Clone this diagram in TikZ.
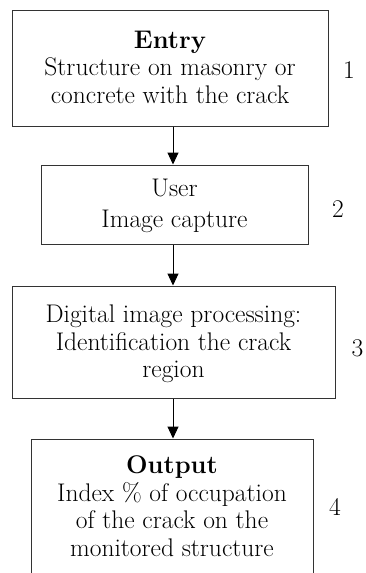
\documentclass[tikz,border=0pt]{standalone}
\usetikzlibrary{arrows.meta}
\begin{document}
\begin{tikzpicture}[x=1pt,y=1pt,
  boxstyle/.style={draw=black!80,line width=1pt,rectangle,inner sep=0pt},
  txt/.style={align=center,inner sep=0pt,font=\fontsize{25.5}{27.5}\selectfont},
  num/.style={inner sep=0pt,font=\fontsize{25.5}{27.5}\selectfont},
  arr/.style={line width=1pt,-{Triangle[length=12pt,width=11pt]}}]
\useasboundingbox (0,-573) rectangle (365,0);
\begin{scope}
\clip (0,-573) rectangle (365,0);
\node[boxstyle,minimum width=316pt,minimum height=116pt] (b1) at (170,-68) {};
\node[boxstyle,minimum width=267pt,minimum height=79pt] (b2) at (174.5,-204.5) {};
\node[boxstyle,minimum width=323pt,minimum height=112pt] (b3) at (173.5,-342) {};
\node[boxstyle,minimum width=282pt,minimum height=161pt] (b4) at (172,-519.5) {};
\end{scope}
\node[txt] (t1) at (170,-67) {\textbf{Entry}\\Structure on masonry or\\concrete with the crack};
\node[txt,font=\fontsize{25.5}{31}\selectfont] (t2) at (174.5,-206) {User\\Image capture};
\node[txt] (t3) at (173.5,-344) {Digital image processing:\\Identification the crack\\region};
\node[txt] (t4) at (172,-506) {\textbf{Output}\\Index \% of occupation\\of the crack on the\\monitored structure};
\node[num] (n1) at (349,-70) {1};
\node[num] (n2) at (338,-209) {2};
\node[num] (n3) at (357.5,-348) {3};
\node[num] (n4) at (335,-507) {4};
\coordinate (ax) at (173,0);
\draw[arr] (b1.south -| ax) -- (b2.north -| ax);
\draw[arr] (b2.south -| ax) -- (b3.north -| ax);
\draw[arr] (b3.south -| ax) -- (b4.north -| ax);
\end{tikzpicture}
\end{document}
